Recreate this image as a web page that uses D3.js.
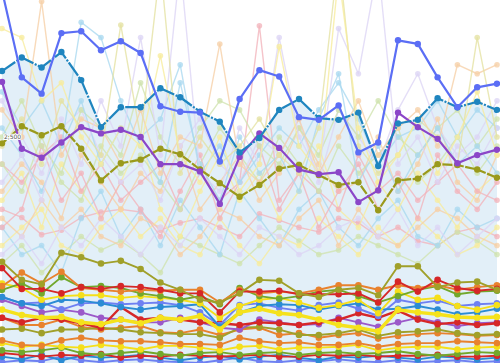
<!DOCTYPE html>
<html>
<head>
<meta charset="utf-8">
<script src="https://cdn.jsdelivr.net/npm/d3@7"></script>
<style>
  html, body { margin: 0; padding: 0; background: #fff; }
  svg { display: block; }
</style>
</head>
<body>
<div id="chart"></div>
<script>
const w = 500
const h = 363

const periods = ['W01','W02','W03','W04','W05','W06','W07','W08','W09','W10','W11','W12','W13',
                 'W14','W15','W16','W17','W18','W19','W20','W21','W22','W23','W24','W25','W26']
const yTicks = [2500]

// highlighted series
const blueMain   = [4120,3160,2980,3650,3670,3460,3560,3430,2840,2780,2770,2230,2920,3240,3170,2720,2690,2850,2330,2440,3570,3530,3160,2830,3050,3090]
const tealMain   = [3230,3380,3270,3440,3130,2610,2830,2830,3040,2940,2780,2670,2330,2490,2800,2920,2710,2690,2770,2180,2650,2690,2930,2830,2890,2800]
const purpleMain = [3110,2370,2270,2440,2610,2540,2580,2500,2200,2200,2120,1760,2280,2540,2380,2140,2090,2110,1780,1910,2770,2610,2480,2210,2300,2360]
const oliveMain  = [2430,2620,2520,2620,2370,2020,2210,2250,2370,2310,2140,1990,1840,1970,2150,2190,2080,1970,2000,1690,2020,2040,2200,2190,2140,2050]

// faded background series
const faded1  = [3700,3600,2900,3100,2500,2200,2600,2400,3400,2300,2000,2500,1900,2200,3500,2400,2100,4300,2600,2000,2300,2700,2100,2500,3000,2300]
const faded2  = [2600,2300,1900,2400,3770,3600,2900,2400,2000,3100,2200,1800,2500,2100,2300,1900,2700,3200,2000,2400,1900,2300,2600,2200,2400,2100]
const faded3  = [1500,1700,2400,1800,2100,1600,2000,1700,1400,1900,2300,1600,2000,3730,1800,2100,1500,1900,2200,1700,2000,1600,2300,1900,1700,2000]
const faded4  = [2800,2500,4000,2300,2700,2600,2200,2800,2100,2500,2400,3530,2200,2000,2300,2700,2100,2500,2900,2300,2600,2800,2400,3300,3200,3300]
const faded5  = [2000,2300,1800,2700,2200,2900,2400,3600,2300,4400,2100,1900,2600,2200,3600,2500,2100,3700,3200,4400,2200,2500,2000,2400,2200,2600]
const faded6  = [2400,2700,2200,2900,2600,2300,3740,2500,4400,2100,2500,2200,2400,2700,2300,2100,2600,4500,2400,2100,2300,2700,2500,2200,3600,2500]
const faded7  = [2200,1900,2500,2000,1800,2400,2100,2300,2000,1700,2200,2600,2300,2000,2500,2200,1900,2400,2100,2300,2600,2000,2200,2500,2100,2400]
const faded8  = [1700,1610,1420,1470,1610,1670,1700,1670,1470,1550,1600,1500,1400,1650,1580,1500,1450,1600,1550,1400,1500,1350,1300,1450,1500,1400]
const faded9  = [1500,1200,1300,1000,1600,1900,1400,1700,1300,1800,1500,1200,1900,1600,1300,1700,1900,1500,1300,1600,1800,1400,1300,1700,1500,1600]
const faded10 = [1800,2100,1500,2200,1900,1600,2000,2500,1700,1400,1900,2300,1800,2100,1600,1900,2400,1700,1500,2000,1700,2100,1800,1500,1900,2100]
const faded11 = [1900,2200,2000,1600,2300,2000,1700,2100,1900,2400,1700,2000,2300,1800,2100,2600,2200,1900,2000,2500,1900,2200,2700,2000,1800,2300]
const faded12 = [2900,2500,2100,2600,2800,2300,2000,2200,1800,2400,2700,2200,2000,2500,2300,2700,2000,2800,2500,2200,2800,3200,2600,2300,2500,2900]
const faded13 = [1100,1300,1000,1200,1400,1250,1350,1200,1000,1400,1300,1200,1100,1300,1500,1350,1200,1250,1400,1300,1200,1100,1300,1450,1350,1200]
const faded14 = [3000,2600,2900,2400,2900,2200,2600,2500,2700,3300,2100,2400,2000,2300,2600,2400,2800,3100,2700,2200,2500,2600,2900,2500,2800,2600]
const faded15 = [2200,2000,2300,2500,1900,2200,1800,2000,2200,1700,2100,1800,2000,2400,1700,2100,1900,1700,2300,1900,2100,1800,2000,2200,1900,1800]
const faded16 = [1300,1500,1700,1300,1200,1500,1700,1400,1600,1300,1200,1600,1300,1100,1400,1300,1600,1400,1200,1500,1300,1600,1400,1200,1300,1500]
const faded17 = [1600,1400,1800,1500,1700,1400,1300,1600,1500,1200,1400,1700,1600,1400,1300,1600,1800,1300,1700,1400,1300,1500,1700,1600,1400,1300]
const faded18 = [2500,2900,2400,2100,2800,2600,2300,3100,2500,2200,2600,2900,2800,2400,2200,2600,2300,2800,2500,2900,2500,2300,2600,2800,2400,2700]
const faded19 = [1200,1400,1100,1500,1300,1600,1400,1200,1500,1300,1600,1400,1200,1500,1400,1200,1300,1500,1600,1400,1700,1300,1500,1200,1400,1600]

// low saturated bundle
const oliveA   = [1120,920,870,1220,1170,1100,1130,1040,890,810,700,670,770,920,910,770,730,810,830,750,1070,1070,840,890,900,810]
const redA     = [1050,820,820,770,840,820,850,840,810,770,770,560,790,790,800,760,760,760,770,670,900,790,920,830,800,820]
const orangeA  = [850,1000,880,1010,830,810,790,810,800,810,810,670,810,770,790,770,810,860,860,810,860,830,860,810,840,860]
const greenA   = [810,880,770,950,840,850,830,770,740,700,740,650,830,740,710,740,790,810,740,670,740,810,850,760,790,800]
const yellowB  = [880,830,700,740,750,750,720,740,720,700,660,500,630,700,720,670,610,640,700,550,790,700,720,630,590,640]
const blueA    = [730,660,630,700,690,660,620,590,620,630,650,400,560,630,650,640,590,630,660,590,600,630,590,540,560,600]
const periA    = [730,660,670,590,660,670,650,660,670,640,560,420,640,660,610,580,640,670,600,520,700,660,690,630,650,660]
const yellowA  = [590,530,500,510,450,430,480,440,500,480,520,370,560,600,550,530,480,420,390,350,590,560,540,510,500,510]
const redB     = [500,450,500,480,440,390,620,480,500,480,450,440,420,450,440,420,450,480,550,500,580,480,430,450,420,440]
const purpleA  = [700,630,560,590,560,500,480,450,450,500,450,390,370,480,450,420,430,500,450,400,450,500,450,410,440,450]
const oliveB   = [370,380,330,370,370,390,370,340,330,320,320,280,390,400,370,310,310,330,370,300,340,350,370,330,310,320]
const orangeB  = [500,420,420,480,400,370,390,410,340,330,370,310,370,390,310,330,280,310,330,270,300,320,330,320,300,310]
const orangeC  = [250,200,190,250,280,250,240,240,230,210,210,200,280,240,220,230,200,200,220,180,210,220,220,240,230,220]
const yellowC  = [220,180,200,180,170,200,180,150,190,190,170,140,180,190,150,170,170,180,200,140,170,180,180,150,170,180]
const greenC   = [140,120,140,170,110,90,110,130,100,80,110,120,90,110,120,90,110,120,100,110,130,100,80,100,120,110]
const redC     = [110,90,70,90,80,100,60,80,70,90,80,70,80,90,70,70,90,80,90,70,80,80,90,70,70,80]
const blueC    = [70,40,90,30,80,60,70,90,60,30,60,80,40,70,90,60,30,70,60,80,60,40,70,60,40,60]
const periC    = [10,30,20,70,30,10,30,40,20,10,0,30,60,20,10,30,20,40,20,10,30,10,20,30,10,20]

const fadedSeries = [
    {v: faded8,  c: '#f2b3bb'}, {v: faded13, c: '#cfe3ae'}, {v: faded9,  c: '#a9d9f0'},
    {v: faded16, c: '#f7ec9c'}, {v: faded17, c: '#f6cfa6'}, {v: faded19, c: '#dcd5f5'},
    {v: faded10, c: '#f7ec9c'}, {v: faded11, c: '#f6cfa6'}, {v: faded15, c: '#f2b3bb'},
    {v: faded7,  c: '#cfe3ae'}, {v: faded3,  c: '#f2b3bb'}, {v: faded12, c: '#dcd5f5'},
    {v: faded18, c: '#cfe3ae'}, {v: faded14, c: '#a9d9f0'}, {v: faded2,  c: '#a9d9f0'},
    {v: faded4,  c: '#f6cfa6'}, {v: faded5,  c: '#dcd5f5'}, {v: faded6,  c: '#e4e2a2'},
    {v: faded1,  c: '#f7ec9c'}
]

const lowSeries = [
    {v: periC,   c: '#6e80f2'}, {v: blueC,   c: '#2b8cd4'},
    {v: redC,    c: '#d62728'}, {v: greenC,  c: '#72a82c'},
    {v: yellowC, c: '#f5df1a'}, {v: orangeC, c: '#e8822e'},
    {v: orangeB, c: '#e8822e'}, {v: oliveB,  c: '#a0a02a'},
    {v: purpleA, c: '#9b59c9'}, {v: redB,    c: '#d62728', sw: 2.4},
    {v: periA,   c: '#6e80f2'}, {v: blueA,   c: '#2b8cd4'},
    {v: yellowB, c: '#f5df1a'}, {v: greenA,  c: '#72a82c'},
    {v: orangeA, c: '#e8822e'}, {v: redA,    c: '#d62728'},
    {v: oliveA,  c: '#a0a02a'}, {v: yellowA, c: '#f5e21c', sw: 3.5}
]

const mainSeries = [
    {v: oliveMain,  c: '#9a9a1c', dash: '10,1.5'},
    {v: purpleMain, c: '#8b46c8', dash: null},
    {v: tealMain,   c: '#1f85bf', dash: '16,1.5,2,1.5'},
    {v: blueMain,   c: '#5b6ef5', dash: null}
]

const svg = d3.select('#chart')
    .append('svg')
    .attr('width', w)
    .attr('height', h)

const xScale = d3.scalePoint()
    .domain(periods)
    .range([2, 497])

const yScale = d3.scaleLinear()
    .domain([0, 4016])
    .range([h, 0])

const line = d3.line()
    .x(function(d, i){ return xScale(periods[i]) })
    .y(function(d){ return yScale(d) })

const area = d3.area()
    .x(function(d, i){ return xScale(periods[i]) })
    .y0(h)
    .y1(function(d){ return yScale(d) })

// band under the teal series
svg.append('path')
    .datum(tealMain)
    .attr('d', area)
    .attr('fill', '#e2eff8')

function drawSeries(list, cls, opts){
    list.forEach(function(s, k){
        const g = svg.append('g').attr('class', cls + '-' + k)
        g.append('path')
            .datum(s.v)
            .attr('d', line)
            .attr('fill', 'none')
            .attr('stroke', s.c)
            .attr('stroke-width', s.sw || opts.sw)
            .attr('stroke-dasharray', s.dash || null)
            .attr('stroke-linejoin', 'round')
            .attr('opacity', opts.op)
        g.selectAll('circle')
            .data(s.v)
            .enter()
            .append('circle')
            .attr('cx', function(d, i){ return xScale(periods[i]) })
            .attr('cy', function(d){ return yScale(d) })
            .attr('r', opts.r)
            .attr('fill', s.c)
            .attr('opacity', opts.op)
    })
}

drawSeries(fadedSeries, 'faded', {sw: 1.4, r: 2.8, op: 0.78})
drawSeries(lowSeries, 'low', {sw: 1.9, r: 3.3, op: 1})
drawSeries(mainSeries, 'main', {sw: 2.2, r: 3.2, op: 1})

// y axis label sitting inside the plot
const yAxis = svg.append('g')
    .attr('transform', 'translate(2,0)')
    .call(d3.axisRight(yScale).tickValues(yTicks).tickSize(0).tickFormat(d3.format(',')))
yAxis.select('.domain').remove()
yAxis.selectAll('text')
    .attr('x', 2)
    .attr('font-family', 'DejaVu Sans, sans-serif')
    .attr('font-size', '6px')
    .attr('fill', '#555')
    .attr('stroke', '#fff')
    .attr('stroke-width', 2)
    .attr('paint-order', 'stroke')
</script>
</body>
</html>
